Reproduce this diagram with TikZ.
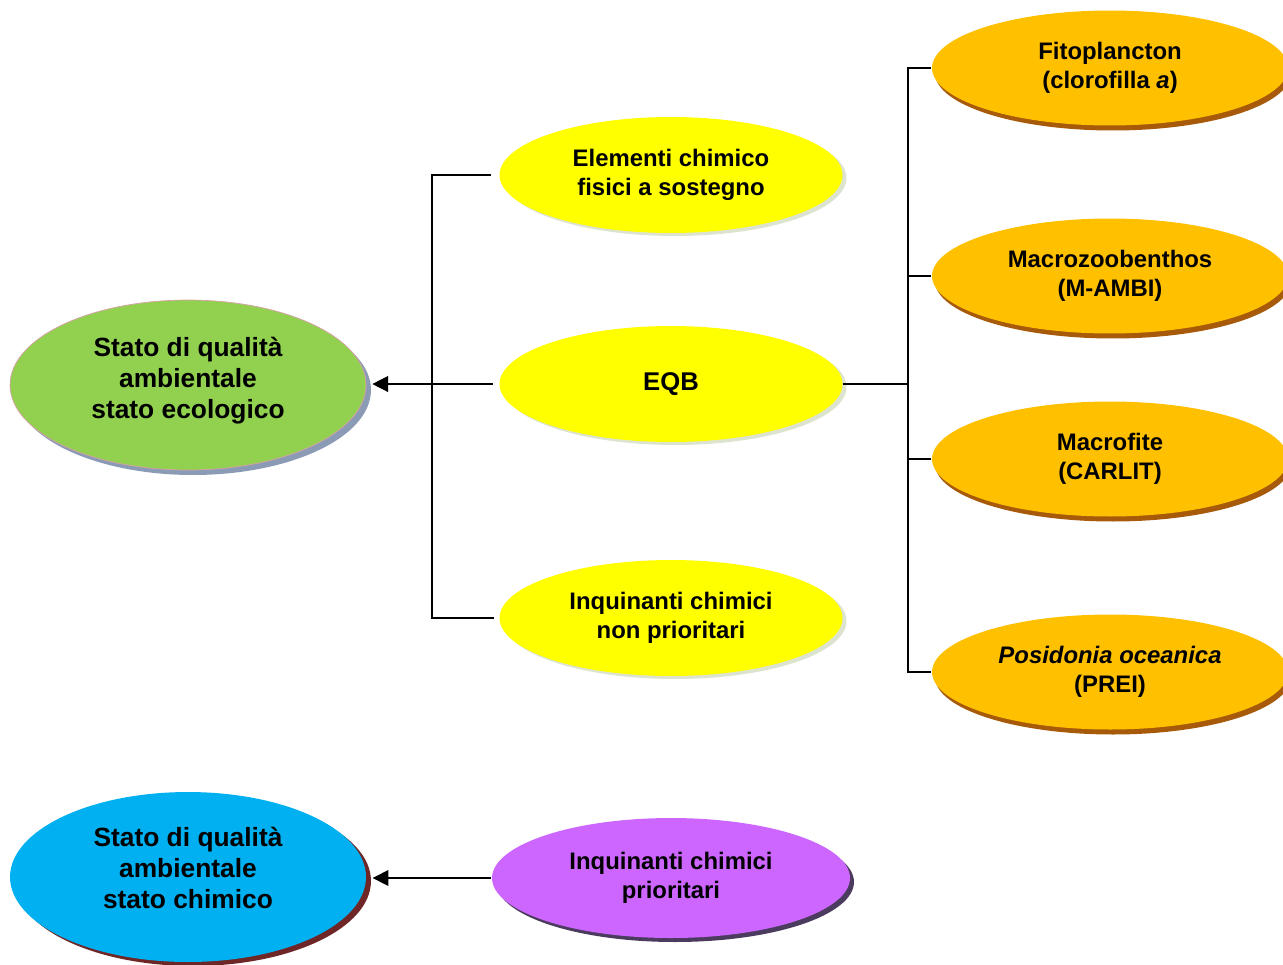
\documentclass[tikz,border=0pt]{standalone}
\usepackage{fontspec}
\setmainfont{Liberation Sans}
\usetikzlibrary{shapes.geometric,shadows,arrows.meta}
\definecolor{verde}{HTML}{92D050}
\definecolor{bordoverde}{HTML}{D9A0A8}
\definecolor{ombraverde}{HTML}{8C9BB5}
\definecolor{giallo}{HTML}{FFFF00}
\definecolor{ombragialla}{HTML}{DCE3CF}
\definecolor{arancio}{HTML}{FFC000}
\definecolor{ombraarancio}{HTML}{A65A0A}
\definecolor{azzurro}{HTML}{00B0F0}
\definecolor{ombraazzurra}{HTML}{6E2626}
\definecolor{viola}{HTML}{CC66FF}
\definecolor{ombraviola}{HTML}{4B3B5E}
\begin{document}
\begin{tikzpicture}[x=0.02cm,y=-0.02cm,line width=0.8pt,
        stato/.style={ellipse,minimum width=7.12cm,minimum height=3.4cm,inner sep=0pt,
            align=center,font=\bfseries\fontsize{15}{17.6}\selectfont},
        elemento/.style={ellipse,minimum width=6.86cm,minimum height=2.32cm,inner sep=0pt,
            align=center,fill=giallo,font=\bfseries\fontsize{13.6}{16.4}\selectfont,
            drop shadow={shadow xshift=0.08cm,shadow yshift=-0.06cm,fill=ombragialla,opacity=1}},
        indice/.style={ellipse,minimum width=7.12cm,minimum height=2.3cm,inner sep=0pt,
            align=center,fill=arancio,font=\bfseries\fontsize{13.6}{16.4}\selectfont,
            drop shadow={shadow xshift=0.06cm,shadow yshift=-0.1cm,fill=ombraarancio,opacity=1}},
        freccia/.style={-{Triangle[length=9pt,width=9pt]}}]
        \useasboundingbox (0,0) rectangle (1283,964);
        % stato ecologico
        \node [stato,fill=verde,draw=bordoverde,line width=0.4pt,text depth=0.28cm,
            drop shadow={shadow xshift=0.1cm,shadow yshift=-0.1cm,fill=ombraverde,opacity=1}]
            (ecologico) at (188,385) {Stato di qualità\\ambientale\\stato ecologico};
        \node [elemento] (fisici) at (671,175) {Elementi chimico\\fisici a sostegno};
        \node [elemento,font=\bfseries\fontsize{14.6}{17}\selectfont] (eqb) at (671,384) {EQB};
        \node [elemento] (nonprior) at (671,618) {Inquinanti chimici\\non prioritari};
        \node [indice] (fito) at (1110,68) {Fitoplancton\\(clorofilla \textit{a})};
        \node [indice] (mambi) at (1110,276) {Macrozoobenthos\\(M-AMBI)};
        \node [indice] (carlit) at (1110,459) {Macrofite\\(CARLIT)};
        \node [indice] (prei) at (1110,672) {\textit{Posidonia oceanica}\\(PREI)};
        % stato chimico
        \node [stato,fill=azzurro,text depth=0.38cm,
            drop shadow={shadow xshift=0.1cm,shadow yshift=-0.08cm,fill=ombraazzurra,opacity=1}]
            (chimico) at (188,877) {Stato di qualità\\ambientale\\stato chimico};
        \node [ellipse,minimum width=7.16cm,minimum height=2.4cm,inner sep=0pt,align=center,
            fill=viola,font=\bfseries\fontsize{13.6}{16.4}\selectfont,
            drop shadow={shadow xshift=0.08cm,shadow yshift=-0.08cm,fill=ombraviola,opacity=1}]
            (prior) at (671,878) {Inquinanti chimici\\prioritari};

        \coordinate (sx) at (432,400);
        \coordinate (dx) at (908,400);
        \draw [shorten <=0.16cm,shorten >=0.1cm] (fisici.west) -| (sx) |- (nonprior.west);
        \draw [freccia,shorten <=0.12cm,shorten >=0.12cm] (eqb.west) -- (eqb.west -| ecologico.east);
        \draw (fito.west) -| (dx) |- (prei.west);
        \draw (mambi.west) -- (mambi.west -| dx);
        \draw (carlit.west) -- (carlit.west -| dx);
        \draw (eqb.east) -- (eqb.east -| dx);
        \draw [freccia,shorten >=0.12cm] (prior.west) -- (prior.west -| chimico.east);

    \end{tikzpicture}
\end{document}
